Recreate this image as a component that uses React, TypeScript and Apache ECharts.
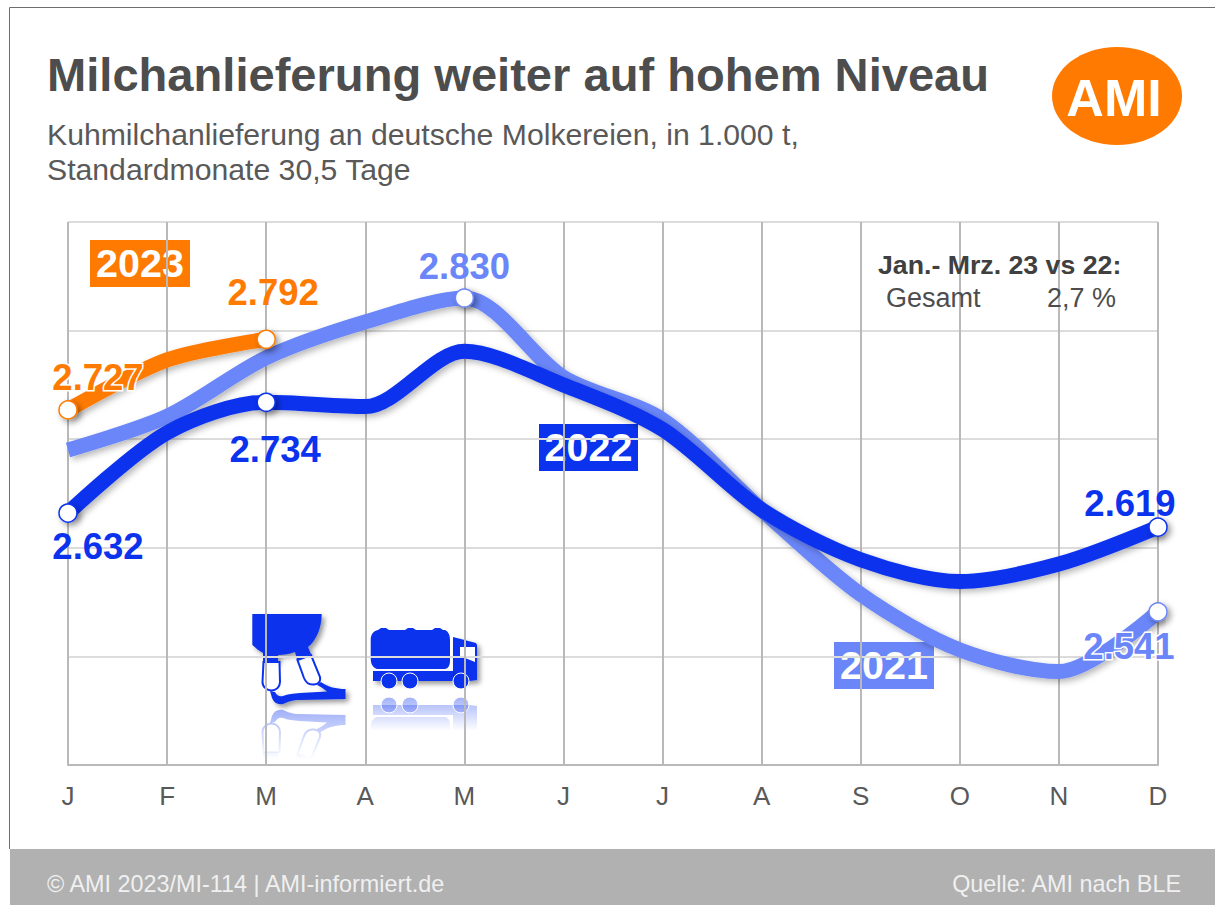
import React, { useEffect, useRef } from "react";
import * as echarts from "echarts";

const months = ["J", "F", "M", "A", "M", "J", "J", "A", "S", "O", "N", "D"];
const values2021 = [2690, 2721, 2775, 2808, 2830, 2757, 2718, 2635, 2557, 2506, 2486, 2541];
const values2022 = [2632, 2706, 2734, 2730, 2781, 2750, 2709, 2635, 2589, 2569, 2585, 2619];
const values2023 = [2727, 2773, 2792];
const titleText = "Milchanlieferung weiter auf hohem Niveau";
const subtitleLines = ["Kuhmilchanlieferung an deutsche Molkereien, in 1.000 t,", "Standardmonate 30,5 Tage"];
const footerLeft = "© AMI 2023/MI-114 | AMI-informiert.de";
const footerRight = "Quelle: AMI nach BLE";

const FONT = "Liberation Sans, Arial, sans-serif";
const ORANGE = "#ff7a00";
const DARK = "#0b33ee";
const LIGHT = "#6b86f8";

const CUP_PATH =
  "M263.5 662 L279.5 662 L280 682 C280 687 276 690.5 271.5 690.5 C267 690.5 262.5 687 262.5 682 Z " +
  "M297.5 660 L311 655 L320 677 C321 682 318 684 314 684.5 C310 685 306 683 304 678 Z";
const CLAW_PATH =
  "M252.3 614 L321.7 614 C321.7 628 316 641 308 647 L311 654 L297 660 L295 652 C290 654 284 655 278 655 L278 662 L263 662 L263 653 C259 651 256 648 252.3 645 Z " +
  "M270 691 L275 692 C277 696 280 697 283 696 C288 694 293 693.5 300 693 L327 691.5 C324 689 321 687 317 685 L321 682 C328 687 336 689 345.5 689 L345.5 699 L300 700 C292 700 288 702 283 704 C278 705 274 703 272 698 Z";
const TANK_PATH =
  "M378 630 L381 628 L386 628 L389 630 L405 630 L408 628 L413 628 L416 630 L432 630 L435 628 L440 628 L443 630 L445 630 C449 632 450 636 450 640 L450 660 C450 665 449 668 445 669 L377 669 C372 667 370.7 663 370.7 658 L370.7 640 C370.7 635 373 631 378 630 Z";
const CAB_PATH = "M453 637 L476 643 L477 645 L477 680 L469.5 681 L453 681 Z";
const CHASSIS_PATH = "M373 671 L453 671 L453 681 L373 681 Z";
const WHEELS_PATH =
  "M381 681 A8 8 0 1 0 397 681 A8 8 0 1 0 381 681 Z " +
  "M402 681 A8 8 0 1 0 418 681 A8 8 0 1 0 402 681 Z " +
  "M453 681 A8 8 0 1 0 469 681 A8 8 0 1 0 453 681 Z";
const WINDOW_POINTS = [[460, 647], [475, 647], [475, 662], [460, 656]];

echarts.graphic.registerShape("amiClaw", echarts.graphic.extendPath(CLAW_PATH, {}));
echarts.graphic.registerShape("amiCups", echarts.graphic.extendPath(CUP_PATH, {}));
echarts.graphic.registerShape("amiTank", echarts.graphic.extendPath(TANK_PATH, {}));
echarts.graphic.registerShape("amiCab", echarts.graphic.extendPath(CAB_PATH, {}));
echarts.graphic.registerShape("amiChassis", echarts.graphic.extendPath(CHASSIS_PATH, {}));
echarts.graphic.registerShape("amiWheels", echarts.graphic.extendPath(WHEELS_PATH, {}));

const lineLabel = (color: string, offset: number[], halo: boolean) => ({
  show: true,
  position: "inside",
  offset,
  color,
  fontFamily: FONT,
  fontWeight: "bold",
  fontSize: 36.5,
  textBorderColor: halo ? "#ffffff" : "transparent",
  textBorderWidth: halo ? 3 : 0,
  formatter: (p: any) => Number(p.value).toLocaleString("de-DE"),
});

const makePoints = (values: number[], color: string, marks: Record<number, { offset: number[]; halo: boolean }>) =>
  values.map((value, i) =>
    marks[i]
      ? {
          value,
          symbol: "circle",
          symbolSize: 18,
          itemStyle: {
            color: "#ffffff",
            borderColor: color,
            borderWidth: 1.5,
            shadowColor: "rgba(0,0,0,0.4)",
            shadowBlur: 6,
            shadowOffsetX: 3,
            shadowOffsetY: 3,
          },
          label: lineLabel(color, marks[i].offset, marks[i].halo),
        }
      : { value, symbol: "none", label: { show: false } }
  );

const makeSeries = (name: string, data: any[], color: string, z: number) => ({
  name,
  type: "line",
  data,
  z,
  smooth: 0.3,
  showAllSymbol: true,
  symbol: "none",
  lineStyle: {
    color,
    width: 15,
    cap: "butt",
    shadowColor: "rgba(0,0,0,0.28)",
    shadowBlur: 6,
    shadowOffsetX: 3,
    shadowOffsetY: 3,
  },
  emphasis: { disabled: true },
});

const badge = (x: number, y: number, w: number, h: number, color: string, text: string) => ({
  type: "group",
  z: 100,
  children: [
    { type: "rect", shape: { x, y, width: w, height: h }, style: { fill: color } },
    {
      type: "text",
      x: x + w / 2,
      y: y + h / 2 - 0.5,
      style: { text, fill: "#ffffff", font: `bold 39.5px ${FONT}`, textAlign: "center", textVerticalAlign: "middle" },
    },
  ],
});

const label = (x: number, y: number, text: string, font: string, fill: string, textAlign = "left") => ({
  type: "text",
  x,
  y,
  z: 100,
  style: { text, font, fill, textAlign, textVerticalAlign: "middle" },
});

const iconShadow = { shadowColor: "rgba(0,0,0,0.4)", shadowBlur: 5, shadowOffsetX: 3, shadowOffsetY: 3 };
const fade = (y0: number, y1: number) =>
  new echarts.graphic.LinearGradient(
    0,
    y0,
    0,
    y1,
    [
      { offset: 0, color: "rgba(11,51,238,0.38)" },
      { offset: 1, color: "rgba(11,51,238,0)" },
    ],
    true
  );

const clawParts = (fill: any, shadow: any) => [
  { type: "amiClaw", x: 0, y: 0, style: { fill, ...shadow } },
  { type: "amiCups", x: 0, y: 0, style: { fill: "rgba(255,255,255,0.9)", stroke: fill, lineWidth: 2 } },
];
const truckParts = (fill: any, shadow: any, glass: string) => [
  { type: "amiCab", x: 0, y: 0, style: { fill, ...shadow } },
  { type: "amiChassis", x: 0, y: 0, style: { fill, ...shadow } },
  { type: "amiTank", x: 0, y: 0, style: { fill } },
  { type: "amiWheels", x: 0, y: 0, style: { fill, stroke: "#ffffff", lineWidth: 1 } },
  { type: "polygon", shape: { points: WINDOW_POINTS }, style: { fill: glass } },
];

export default function App() {
  const ref = useRef<HTMLDivElement>(null);
  useEffect(() => {
    const chart = echarts.init(ref.current!, null, { renderer: "svg" });
    chart.setOption({
      animation: false,
      backgroundColor: "#ffffff",
      grid: { left: 68, right: 57, top: 222, height: 543, containLabel: false },
      xAxis: {
        type: "category",
        data: months,
        boundaryGap: false,
        axisLine: { show: true, lineStyle: { color: "#b9b9b9", width: 2 } },
        axisTick: { show: false },
        axisLabel: { interval: 0, color: "#595959", fontFamily: FONT, fontSize: 26, margin: 18 },
        splitLine: { show: true, interval: 0, lineStyle: { color: "#b9b9b9", width: 2 } },
      },
      yAxis: {
        type: "value",
        min: 2400,
        max: 2900,
        interval: 100,
        axisLine: { show: false },
        axisTick: { show: false },
        axisLabel: { show: false },
        splitLine: { show: true, lineStyle: { color: "#dcdcdc", width: 2 } },
      },
      series: [
        makeSeries(
          "2021",
          makePoints(values2021, LIGHT, {
            4: { offset: [0, -32], halo: false },
            11: { offset: [-29, 35], halo: true },
          }),
          LIGHT,
          2
        ),
        makeSeries(
          "2022",
          makePoints(values2022, DARK, {
            0: { offset: [30, 33], halo: false },
            2: { offset: [9, 47], halo: false },
            11: { offset: [-28, -24], halo: false },
          }),
          DARK,
          3
        ),
        makeSeries(
          "2023",
          makePoints(values2023, ORANGE, {
            0: { offset: [30, -32], halo: true },
            2: { offset: [7, -47], halo: false },
          }),
          ORANGE,
          4
        ),
      ],
      graphic: [
        { type: "line", z: 100, shape: { x1: 9.5, y1: 7.5, x2: 1215, y2: 7.5 }, style: { stroke: "#6e6e6e", lineWidth: 1 } },
        { type: "line", z: 100, shape: { x1: 9.5, y1: 7.5, x2: 9.5, y2: 849 }, style: { stroke: "#6e6e6e", lineWidth: 1 } },
        { type: "rect", z: 100, shape: { x: 10, y: 849, width: 1205, height: 56 }, style: { fill: "#b1b1b1" } },
        label(47, 74, titleText, `bold 47.1px ${FONT}`, "#4d4d4d"),
        label(47, 134, subtitleLines[0], `30.2px ${FONT}`, "#595959"),
        label(47, 169, subtitleLines[1], `30.2px ${FONT}`, "#595959"),
        { type: "ellipse", z: 100, shape: { cx: 1117, cy: 96, rx: 65, ry: 49 }, style: { fill: ORANGE } },
        label(1114, 98, "AMI", `bold 52px ${FONT}`, "#ffffff", "center"),
        label(878, 265, "Jan.- Mrz. 23 vs 22:", `bold 26.7px ${FONT}`, "#404040"),
        label(886, 298, "Gesamt", `27px ${FONT}`, "#4d4d4d"),
        label(1047, 298, "2,7 %", `27px ${FONT}`, "#4d4d4d"),
        label(47, 884, footerLeft, `23.4px ${FONT}`, "#f0f0f0"),
        label(1181, 884, footerRight, `23.4px ${FONT}`, "#f0f0f0", "right"),
        badge(90, 240, 100, 47, ORANGE, "2023"),
        badge(539, 424, 99, 47, DARK, "2022"),
        badge(834, 642, 100, 47, LIGHT, "2021"),
        { type: "group", z: 100, children: clawParts(DARK, iconShadow) },
        { type: "group", z: 100, children: truckParts(DARK, iconShadow, "#ffffff") },
        { type: "group", z: 99, x: 0, y: 1414, scaleY: -1, children: clawParts(fade(704, 655), {}) },
        { type: "group", z: 99, x: 0, y: 1386, scaleY: -1, children: truckParts(fade(689, 655), {}, "rgba(255,255,255,0)") },
      ],
    });
    return () => chart.dispose();
  }, []);
  return <div ref={ref} style={{ position: "absolute", left: 0, top: 0, width: 1215, height: 905 }} />;
}
